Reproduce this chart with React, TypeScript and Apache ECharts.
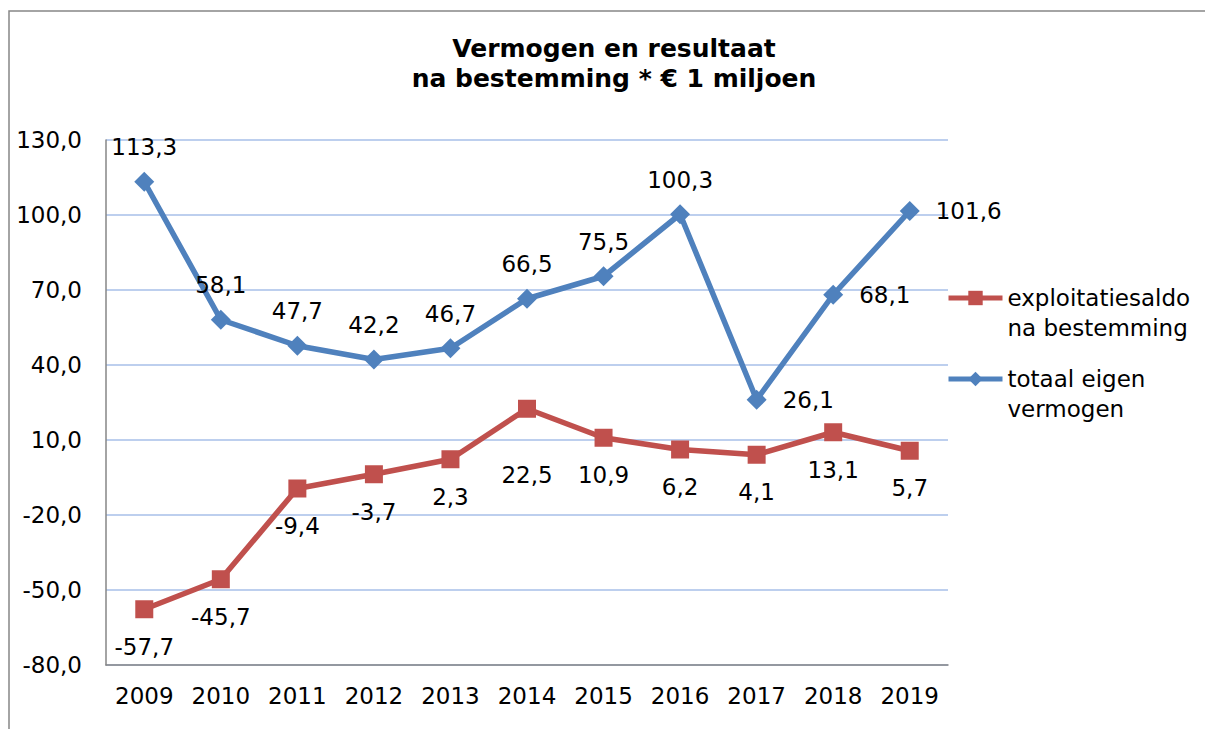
import React, { useEffect, useRef } from 'react';
import * as echarts from 'echarts';

const years = ['2009', '2010', '2011', '2012', '2013', '2014', '2015', '2016', '2017', '2018', '2019'];
const exploitatiesaldo = [-57.7, -45.7, -9.4, -3.7, 2.3, 22.5, 10.9, 6.2, 4.1, 13.1, 5.7];
const totaalEigenVermogen = [113.3, 58.1, 47.7, 42.2, 46.7, 66.5, 75.5, 100.3, 26.1, 68.1, 101.6];
const yMin = -80;
const yMax = 130;
const yStep = 30;

const seriesNames = ['exploitatiesaldo\nna bestemming', 'totaal eigen\nvermogen'];
const titleText = 'Vermogen en resultaat\nna bestemming * € 1 miljoen';

const fmt = (v: number) => Number(v).toFixed(1).replace('.', ',');

export default function App() {
  const ref = useRef<HTMLDivElement>(null);
  useEffect(() => {
    const chart = echarts.init(ref.current as HTMLDivElement, null, { renderer: 'svg' });
    const font = 'DejaVu Sans';
    const red = '#C0504D';
    const blue = '#4F81BD';
    chart.setOption({
      animation: false,
      textStyle: { fontFamily: font },
      graphic: [
        {
          type: 'rect',
          silent: true,
          z: -10,
          shape: { x: 9, y: 11, width: 1400, height: 1000 },
          style: { fill: 'none', stroke: '#868686', lineWidth: 1.5 },
        },
        {
          type: 'text',
          x: 614,
          y: 33,
          style: {
            text: titleText,
            fontFamily: font,
            fontSize: 25,
            fontWeight: 'bold',
            align: 'center',
            verticalAlign: 'top',
            lineHeight: 30,
            fill: '#000',
          },
        },
      ],
      grid: { left: 106, right: 257, top: 140, bottom: 64 },
      legend: {
        orient: 'vertical',
        left: 946,
        top: 253,
        padding: 0,
        itemWidth: 54,
        itemHeight: 18,
        itemGap: -9,
        data: seriesNames,
        formatter: (name: string) => '\n' + name,
        lineStyle: { width: 5 },
        textStyle: { fontSize: 23, color: '#000', lineHeight: 30 },
      },
      xAxis: {
        type: 'category',
        data: years,
        boundaryGap: true,
        axisLine: { onZero: false, lineStyle: { color: '#868686', width: 1.5 } },
        axisTick: { show: false },
        axisLabel: { fontSize: 23, color: '#000', margin: 19 },
      },
      yAxis: {
        type: 'value',
        min: yMin,
        max: yMax,
        interval: yStep,
        axisLine: { show: true, lineStyle: { color: '#868686', width: 1.5 } },
        axisTick: { show: false },
        axisLabel: { fontSize: 23, color: '#000', margin: 24, formatter: (v: number) => fmt(v) },
        splitLine: { lineStyle: { color: '#A7BFE8', width: 1.5 } },
      },
      series: [
        {
          name: seriesNames[0],
          type: 'line',
          data: exploitatiesaldo.map((v, i) => ({
            value: v,
            label: i === 5 ? { distance: 46 } : {},
          })),
          symbol: 'rect',
          symbolSize: 18,
          lineStyle: { width: 5.5, color: red },
          itemStyle: { color: red },
          label: {
            show: true,
            position: 'bottom',
            distance: 17,
            fontSize: 23,
            color: '#000',
            formatter: (p: any) => fmt(p.value),
          },
        },
        {
          name: seriesNames[1],
          type: 'line',
          data: totaalEigenVermogen.map((v, i) => ({
            value: v,
            label: i >= 8 ? { position: 'right', distance: 16 } : {},
          })),
          symbol: 'diamond',
          symbolSize: 20,
          lineStyle: { width: 5.5, color: blue },
          itemStyle: { color: blue },
          label: {
            show: true,
            position: 'top',
            distance: 13,
            fontSize: 23,
            color: '#000',
            formatter: (p: any) => fmt(p.value),
          },
        },
      ],
    });
    return () => chart.dispose();
  }, []);
  return (
    <div
      ref={ref}
      style={{ position: 'fixed', left: 0, top: 0, width: 1205, height: 729, background: '#fff' }}
    />
  );
}
